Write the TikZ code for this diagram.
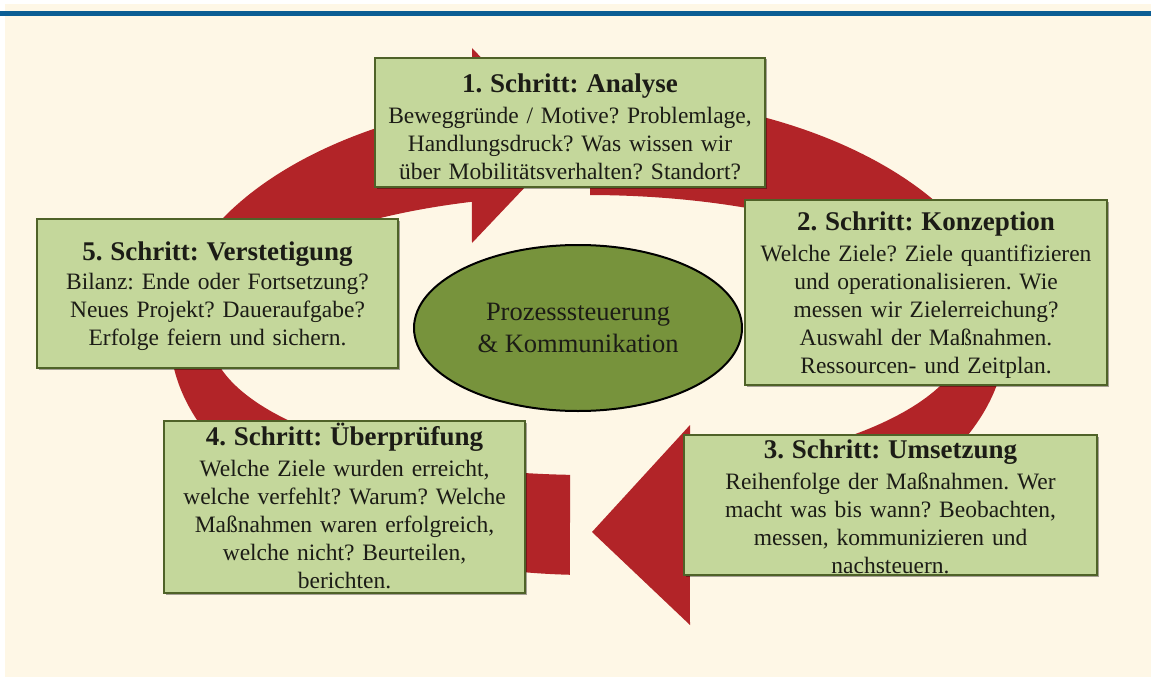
\documentclass[tikz,border=0pt]{standalone}
\usepackage{fontspec}
\setmainfont{Liberation Serif}
\usetikzlibrary{shadows,shapes.geometric}
\frenchspacing
\definecolor{bgc}{RGB}{254,247,230}
\definecolor{barc}{RGB}{12,94,148}
\definecolor{redc}{RGB}{178,36,40}
\definecolor{boxc}{RGB}{196,215,155}
\definecolor{boxl}{RGB}{79,98,40}
\definecolor{ellc}{RGB}{119,147,60}
\definecolor{txtc}{RGB}{28,28,22}
\newcommand{\steptitlefont}{\fontsize{27}{28}\selectfont\bfseries}
\newcommand{\stepbodyfont}{\fontsize{23.5}{28}\selectfont}
\newcommand{\firststrut}{\rule{0pt}{25pt}}
\tikzset{
  stepbox/.style={draw=boxl, line width=2pt, fill=boxc, inner sep=0pt,
    drop shadow={shadow xshift=1.5pt, shadow yshift=-1.5pt, fill=black, opacity=0.35}},
  steptext/.style={font=\stepbodyfont\frenchspacing, text=txtc, align=center, text width=440pt,
    inner sep=0pt, anchor=north},
  corestyle/.style={ellipse, draw=black, line width=2pt, fill=ellc, inner sep=0pt,
    minimum width=328pt, minimum height=166pt, text=txtc, align=center,
    font=\fontsize{26.5}{32}\selectfont},
  arrowbody/.style={fill=redc}
}
\begin{document}
\begin{tikzpicture}[x=1pt, y=-1pt]
\useasboundingbox (0,0) rectangle (1151,677);
\fill[white] (0,0) rectangle (1151,677);
\fill[bgc] (5,4) rectangle (1151,677);
\fill[barc] (0,11) rectangle (1151,16);

% left block arc arrow (from bottom, over the left, to the top)
\fill[arrowbody] (569.77,574.77)
  arc[start angle=92.5, end angle=253.9, x radius=418, y radius=240]
  -- (472,48) -- (565,145) -- (472,243) -- (471.82,201.78)
  arc[start angle=252.1, end angle=92.7, x radius=378, y radius=140] -- cycle;
% right block arc arrow (from the top, over the right, to the bottom)
\fill[arrowbody] (590.19,95)
  arc[start angle=270.3, end angle=435.9, x radius=418, y radius=240]
  -- (690,625) -- (592,532) -- (690,425) -- (690.29,469.78)
  arc[start angle=434.3, end angle=270.3, x radius=378, y radius=140] -- cycle;

\node[corestyle] (core) at (578,328) {Prozesssteuerung\\\& Kommunikation};

\node[stepbox, minimum width=390pt, minimum height=129pt] (b1) at (570,122.5) {};
\node[steptext] (t1) at (570,67) {\firststrut{\steptitlefont 1. Schritt: Analyse}\\[3pt]
Beweggründe / Motive? Problemlage,\\
Handlungsdruck? Was wissen wir\\
über Mobilitätsverhalten? Standort?};

\node[stepbox, minimum width=362pt, minimum height=185pt] (b2) at (926,292.5) {};
\node[steptext] (t2) at (926,205) {\firststrut{\steptitlefont 2. Schritt: Konzeption}\\[3pt]
Welche Ziele? Ziele quantifizieren\\
und operationalisieren. Wie\\
messen wir Zielerreichung?\\
Auswahl der Maßnahmen.\\
Ressourcen- und Zeitplan.};

\node[stepbox, minimum width=413pt, minimum height=140pt] (b3) at (890.5,505) {};
\node[steptext] (t3) at (890.5,433) {\firststrut{\steptitlefont 3. Schritt: Umsetzung}\\[3pt]
Reihenfolge der Maßnahmen. Wer\\
macht was bis wann? Beobachten,\\
messen, kommunizieren und\\
nachsteuern.};

\node[stepbox, minimum width=361pt, minimum height=172pt] (b4) at (344.5,507) {};
\node[steptext] (t4) at (344.5,420) {\firststrut{\steptitlefont 4. Schritt: Überprüfung}\\[3pt]
Welche Ziele wurden erreicht,\\
welche verfehlt? Warum? Welche\\
Maßnahmen waren erfolgreich,\\
welche nicht? Beurteilen,\\
berichten.};

\node[stepbox, minimum width=361pt, minimum height=149pt] (b5) at (217.5,293.5) {};
\node[steptext] (t5) at (217.5,235) {\firststrut{\steptitlefont 5. Schritt: Verstetigung}\\[1pt]
Bilanz: Ende oder Fortsetzung?\\
Neues Projekt? Daueraufgabe?\\
Erfolge feiern und sichern.};
\end{tikzpicture}
\end{document}
